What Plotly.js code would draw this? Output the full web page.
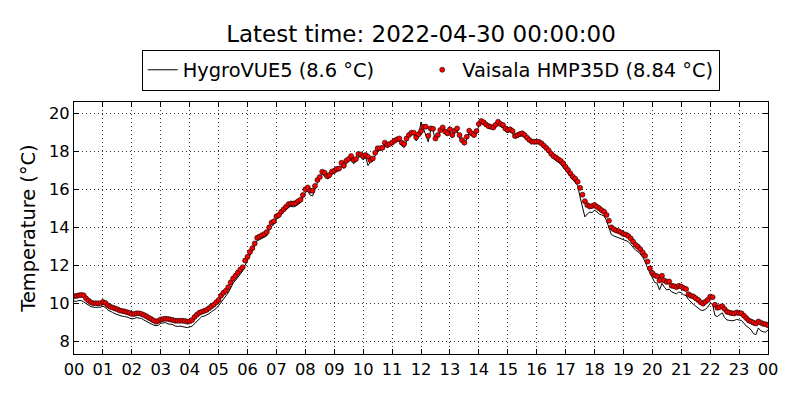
<!DOCTYPE html>
<html>
<head>
<meta charset="utf-8">
<script src="https://cdn.plot.ly/plotly-3.0.1.min.js"></script>
<style>
  html,body{margin:0;padding:0;background:#fff;}
  #chart{width:800px;height:400px;}
</style>
</head>
<body>
<div id="chart"></div>
<script>
// 5-minute samples for 2022-04-29
const dayStart = "2022-04-29";
const dayEnd = "2022-04-30 00:00";
const stepMin = 5;
const hourLabels = ["00","01","02","03","04","05","06","07","08","09","10","11",
                    "12","13","14","15","16","17","18","19","20","21","22","23","00"];

const hygroName = "HygroVUE5 (8.6 °C)";
const vaisalaName = "Vaisala HMP35D (8.84 °C)";

// HygroVUE5 (black line)
const hygroVals = [
  10.12,10.1,10.15,10.14,10.08,9.98,9.9,9.82,9.8,9.78,9.8,9.79,9.85,
  9.78,9.65,9.6,9.52,9.45,9.4,9.35,9.32,9.3,9.28,9.22,9.18,
  9.2,9.25,9.22,9.2,9.12,9.05,8.98,8.9,8.85,8.82,8.85,8.95,
  8.95,8.98,8.92,8.9,8.88,8.8,8.78,8.8,8.78,8.75,8.72,8.75,
  8.8,8.92,9.05,9.2,9.3,9.32,9.38,9.45,9.55,9.62,9.72,9.88,
  10.05,10.2,10.35,10.55,10.8,11.05,11.2,11.38,11.55,11.7,12.0,12.25,
  12.5,12.75,13.0,13.3,13.35,13.42,13.48,13.55,13.85,14.05,14.15,14.45,
  14.5,14.65,14.85,14.92,15.05,15.1,15.08,15.12,15.2,15.3,15.55,15.85,
  15.9,15.7,15.65,16.0,16.35,16.55,16.8,16.7,16.55,16.6,16.8,16.85,
  16.95,16.98,17.25,17.1,17.38,17.5,17.62,17.35,17.45,17.7,17.72,17.55,
  17.7,17.25,17.45,17.5,17.82,18.05,18.08,18.1,18.35,18.2,18.28,18.35,
  18.45,18.55,18.6,18.3,18.2,18.55,18.78,18.9,18.92,18.55,18.82,19.55,
  19.2,18.95,18.5,19.1,19.1,18.55,18.78,19.02,19.15,18.9,18.85,19.05,
  18.72,19.0,19.1,18.7,18.45,18.35,18.65,19.0,18.82,18.75,18.95,19.35,
  19.5,19.42,19.3,19.2,19.2,19.15,19.3,19.45,19.3,19.25,19.05,19.0,
  19.05,18.95,18.7,18.72,18.8,18.82,18.72,18.6,18.5,18.42,18.4,18.42,
  18.42,18.32,18.2,18.05,17.9,17.72,17.6,17.52,17.42,17.32,17.15,17.0,
  16.85,16.65,16.5,16.38,16.2,15.6,15.05,14.55,14.7,14.8,14.78,14.9,
  14.82,14.7,14.65,14.6,14.35,14.0,13.62,13.55,13.5,13.48,13.42,13.35,
  13.3,13.25,13.1,12.95,12.8,12.72,12.6,12.42,12.2,11.85,11.55,11.35,
  11.1,11.05,10.7,11.05,10.85,10.7,10.75,10.6,10.55,10.5,10.6,10.55,
  10.45,10.4,10.2,10.05,9.95,9.85,9.75,9.65,9.62,9.68,9.8,10.0,
  9.95,9.35,9.3,9.4,9.5,9.25,9.12,9.1,9.08,9.1,9.15,9.12,
  9.1,8.95,8.8,8.72,8.6,8.4,8.35,8.7,8.55,8.5,8.48,8.6
];

// Vaisala HMP35D (red dots)
const vaisalaVals = [
  10.38,10.38,10.42,10.44,10.42,10.26,10.15,10.05,10.0,10.0,10.0,10.0,10.07,
  10.02,9.9,9.82,9.78,9.73,9.68,9.62,9.6,9.57,9.53,9.49,9.44,
  9.44,9.47,9.47,9.44,9.38,9.32,9.24,9.17,9.1,9.03,9.08,9.15,
  9.17,9.19,9.17,9.15,9.12,9.08,9.08,9.08,9.08,9.07,9.03,9.05,
  9.12,9.28,9.4,9.5,9.55,9.6,9.65,9.74,9.84,9.92,10.05,10.17,
  10.4,10.55,10.66,10.85,11.1,11.3,11.45,11.62,11.78,11.9,12.25,12.45,
  12.7,12.9,13.15,13.45,13.52,13.58,13.65,13.75,14.0,14.25,14.32,14.58,
  14.65,14.82,14.95,15.08,15.22,15.26,15.25,15.28,15.38,15.45,15.7,16.0,
  16.1,15.93,15.93,16.18,16.49,16.65,16.93,16.88,16.7,16.75,16.93,16.98,
  17.07,17.1,17.4,17.25,17.51,17.6,17.75,17.54,17.6,17.86,17.84,17.75,
  17.81,17.72,17.54,17.63,17.93,18.16,18.16,18.19,18.46,18.33,18.39,18.46,
  18.56,18.63,18.68,18.46,18.39,18.68,18.86,18.98,18.98,18.74,18.9,19.07,
  19.3,19.3,18.82,19.21,19.19,18.68,18.86,19.12,19.26,19.04,18.95,19.16,
  18.86,19.09,19.21,18.86,18.6,18.46,18.77,19.09,18.95,18.86,19.07,19.44,
  19.6,19.53,19.42,19.33,19.3,19.26,19.4,19.56,19.44,19.39,19.21,19.12,
  19.16,19.07,18.81,18.86,18.91,18.95,18.86,18.72,18.6,18.51,18.51,18.51,
  18.5,18.42,18.3,18.18,18.05,17.87,17.75,17.68,17.58,17.5,17.37,17.19,
  17.02,16.84,16.67,16.56,16.4,16.08,15.72,15.38,15.17,15.1,15.12,15.18,
  15.08,15.0,14.9,14.82,14.65,14.35,14.0,13.9,13.83,13.8,13.73,13.65,
  13.62,13.55,13.42,13.25,13.08,12.98,12.85,12.68,12.5,12.2,11.84,11.6,
  11.47,11.42,11.2,11.45,11.2,11.12,11.15,10.93,10.9,10.85,10.92,10.88,
  10.8,10.75,10.48,10.4,10.36,10.27,10.18,10.06,9.98,10.08,10.18,10.35,
  10.32,9.92,9.76,9.8,9.85,9.7,9.55,9.51,9.48,9.46,9.52,9.48,
  9.47,9.35,9.22,9.1,9.04,8.98,8.93,9.04,8.98,8.92,8.9,8.84
];

const yTicks = [8,10,12,14,16,18,20];

function timeAxis(n){
  const out=[];
  for(let i=0;i<n;i++){
    const m=i*stepMin;
    if(m>=1440){ out.push(dayEnd); continue; }
    const hh=String(Math.floor(m/60)).padStart(2,"0"), mm=String(m%60).padStart(2,"0");
    out.push(`${dayStart} ${hh}:${mm}`);
  }
  return out;
}

const FONT="DejaVu Sans, sans-serif";
const tickVals=hourLabels.map((_,h)=>h<24?`${dayStart} ${String(h).padStart(2,"0")}:00`:dayEnd);
const legendPad="\u00a0".repeat(7);   // matplotlib leaves a wide gap between the two legend entries

const traces=[
  {x:timeAxis(hygroVals.length),y:hygroVals,mode:"lines",name:hygroName+legendPad,
   line:{color:"#000",width:1}},
  {x:timeAxis(vaisalaVals.length),y:vaisalaVals,mode:"markers",name:vaisalaName,
   marker:{color:"#ff0000",size:5,line:{color:"#000",width:0.6}}}
];

const axisCommon={showline:true,linecolor:"#000",linewidth:1,mirror:"ticks",
  ticks:"inside",ticklen:5,tickcolor:"#000",showgrid:true,gridcolor:"#000",
  gridwidth:0.8,griddash:"1px,3px",zeroline:false,tickfont:{family:FONT,size:16.3,color:"#000"}};

const layout={
  width:800,height:400,
  margin:{l:74,r:32,t:102,b:46},
  paper_bgcolor:"#fff",plot_bgcolor:"#fff",
  font:{family:FONT,color:"#000"},
  title:{text:"Latest time: 2022-04-30 00:00:00",x:0.5,xref:"paper",xanchor:"center",
    y:0.915,yref:"container",yanchor:"middle",font:{family:FONT,size:23,color:"#000"}},
  showlegend:true,
  legend:{orientation:"h",x:0.514,xanchor:"center",y:1.045,yanchor:"bottom",
    bordercolor:"#000",borderwidth:1,bgcolor:"#fff",font:{family:FONT,size:19.4,color:"#000"},
    itemsizing:"trace"},
  xaxis:Object.assign({},axisCommon,{type:"date",range:[dayStart+" 00:00",dayEnd],
    tickmode:"array",tickvals:tickVals,ticktext:hourLabels}),
  yaxis:Object.assign({},axisCommon,{range:[7.33,20.6],tickmode:"array",tickvals:yTicks,
    ticktext:yTicks.map(String),
    title:{text:"Temperature (°C)",standoff:8,font:{family:FONT,size:19.4,color:"#000"}}}),
  hovermode:false
};

Plotly.newPlot("chart",traces,layout,{displayModeBar:false,staticPlot:true});
</script>
</body>
</html>
